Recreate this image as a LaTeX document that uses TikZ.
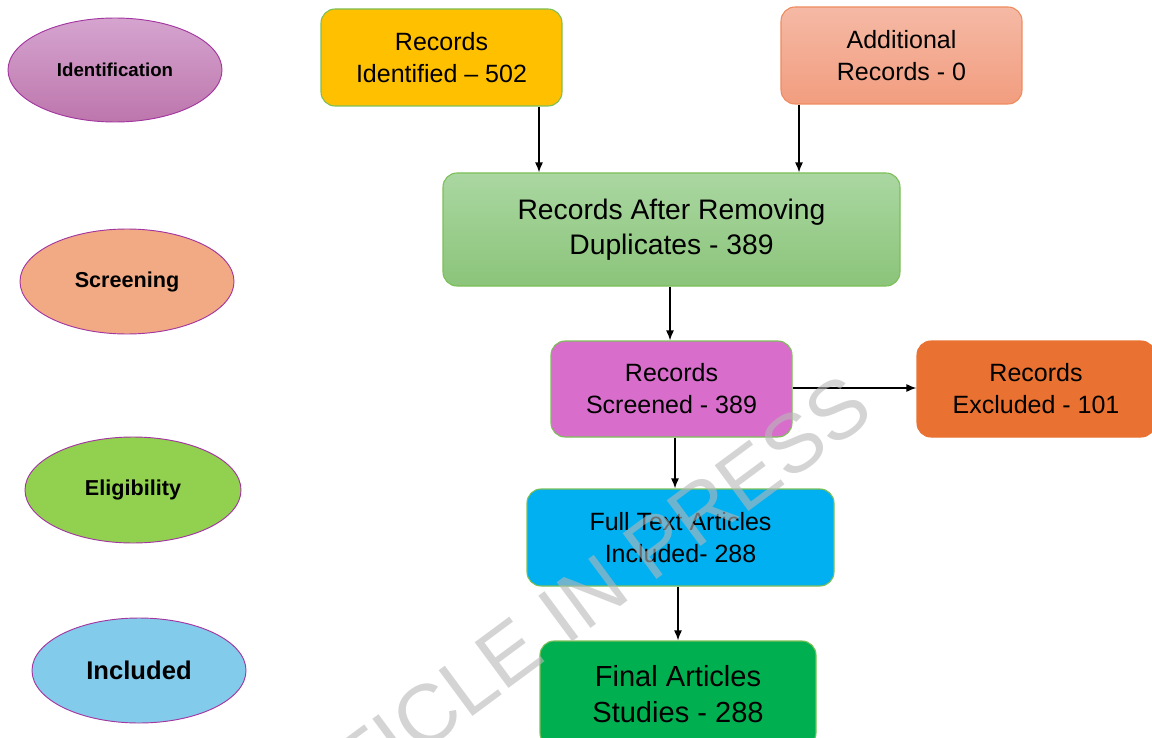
\documentclass[tikz,border=0pt]{standalone}
\usepackage{fontspec}
\setmainfont{Liberation Sans}
\usetikzlibrary{arrows.meta,shapes.geometric}

\definecolor{stageedge}{HTML}{A336A0}
\definecolor{idtop}{HTML}{D5A4CF}
\definecolor{idbot}{HTML}{BD76AC}
\definecolor{scrfill}{HTML}{F2AA84}
\definecolor{elifill}{HTML}{92D050}
\definecolor{incfill}{HTML}{83CBEB}
\definecolor{boxedge}{HTML}{7CBF58}
\definecolor{yelfill}{HTML}{FFC000}
\definecolor{addtop}{HTML}{F5B9A5}
\definecolor{addbot}{HTML}{F29D7F}
\definecolor{addedge}{HTML}{EE8B5F}
\definecolor{duptop}{HTML}{AAD7A1}
\definecolor{dupbot}{HTML}{8BC47A}
\definecolor{scrbox}{HTML}{D86DCB}
\definecolor{excfill}{HTML}{E97132}
\definecolor{fulfill}{HTML}{00B0F0}
\definecolor{finfill}{HTML}{00B050}
\definecolor{wmgray}{HTML}{B8B8B8}

\tikzset{
  sz/.style 2 args={minimum width=#1*0.75pt, minimum height=#2*0.75pt},
  stage/.style={ellipse, draw=stageedge, line width=0.7pt, inner sep=0pt},
  flowbox/.style={rounded corners=10.5pt, draw=boxedge, line width=0.8pt,
    inner sep=0pt, align=center, font=\fontsize{18.75}{24}\selectfont},
  arr/.style={-{Latex[length=7.5pt,width=6pt]}, line width=1.1pt, draw=black}
}

\begin{document}
\begin{tikzpicture}[x=0.75pt,y=-0.75pt]

\path[use as bounding box] (0,0) rectangle (1152,738);
\clip (0,0) rectangle (1152,738);

% stage labels on the left
\node[stage, sz={214}{104}, top color=idtop, bottom color=idbot,
  font=\bfseries\fontsize{14}{16}\selectfont] (id) at (115,70) {Identification};
\node[stage, sz={214}{105}, fill=scrfill,
  font=\bfseries\fontsize{16.2}{18}\selectfont] (sc) at (127,281.5) {Screening};
\node[stage, sz={216}{106}, fill=elifill,
  font=\bfseries\fontsize{16.2}{18}\selectfont] (el) at (133,490) {Eligibility};
\node[stage, sz={214}{105}, fill=incfill,
  font=\bfseries\fontsize{19.2}{21}\selectfont] (in) at (139,670.5) {Included};

% flow boxes
\node[flowbox, sz={241}{97}, fill=yelfill] (yel) at (441.5,57.5)
  {Records\\Identified – 502};
\node[flowbox, sz={241}{97}, draw=addedge, top color=addtop, bottom color=addbot] (add) at (901.5,55.5)
  {Additional\\Records - 0};
\node[flowbox, sz={457}{113}, top color=duptop, bottom color=dupbot,
  font=\fontsize{21.2}{26.5}\selectfont] (dup) at (671.5,229.5)
  {Records After Removing\\Duplicates - 389};
\node[flowbox, sz={241}{96}, fill=scrbox] (scr) at (671.5,389)
  {Records\\Screened - 389};
\node[flowbox, sz={238}{96}, draw=excfill, fill=excfill] (exc) at (1036,389)
  {Records\\Excluded - 101};
\node[flowbox, sz={307}{97}, fill=fulfill] (ful) at (680.5,537.5)
  {Full Text Articles\\Included- 288};
\node[flowbox, sz={276}{106}, fill=finfill,
  font=\fontsize{21.8}{27}\selectfont] (fin) at (678,694)
  {Final Articles\\Studies - 288};

% connectors
\draw[arr] (yel.south -| 539,0) -- (dup.north -| 539,0);
\draw[arr] (add.south -| 799,0) -- (dup.north -| 799,0);
\draw[arr] (dup.south -| 670,0) -- (scr.north -| 670,0);
\draw[arr] (scr.south -| 675,0) -- (ful.north -| 675,0);
\draw[arr] (scr.east |- 0,388) -- (exc.west |- 0,388);
\draw[arr] (ful.south -| 678,0) -- (fin.north -| 678,0);

% watermark
\node[rotate=36.5, text=wmgray, text opacity=0.6, inner sep=0pt,
  font=\fontsize{62}{62}\selectfont] (wm) at (556,619) {ARTICLE IN PRESS};
\end{tikzpicture}
\end{document}
